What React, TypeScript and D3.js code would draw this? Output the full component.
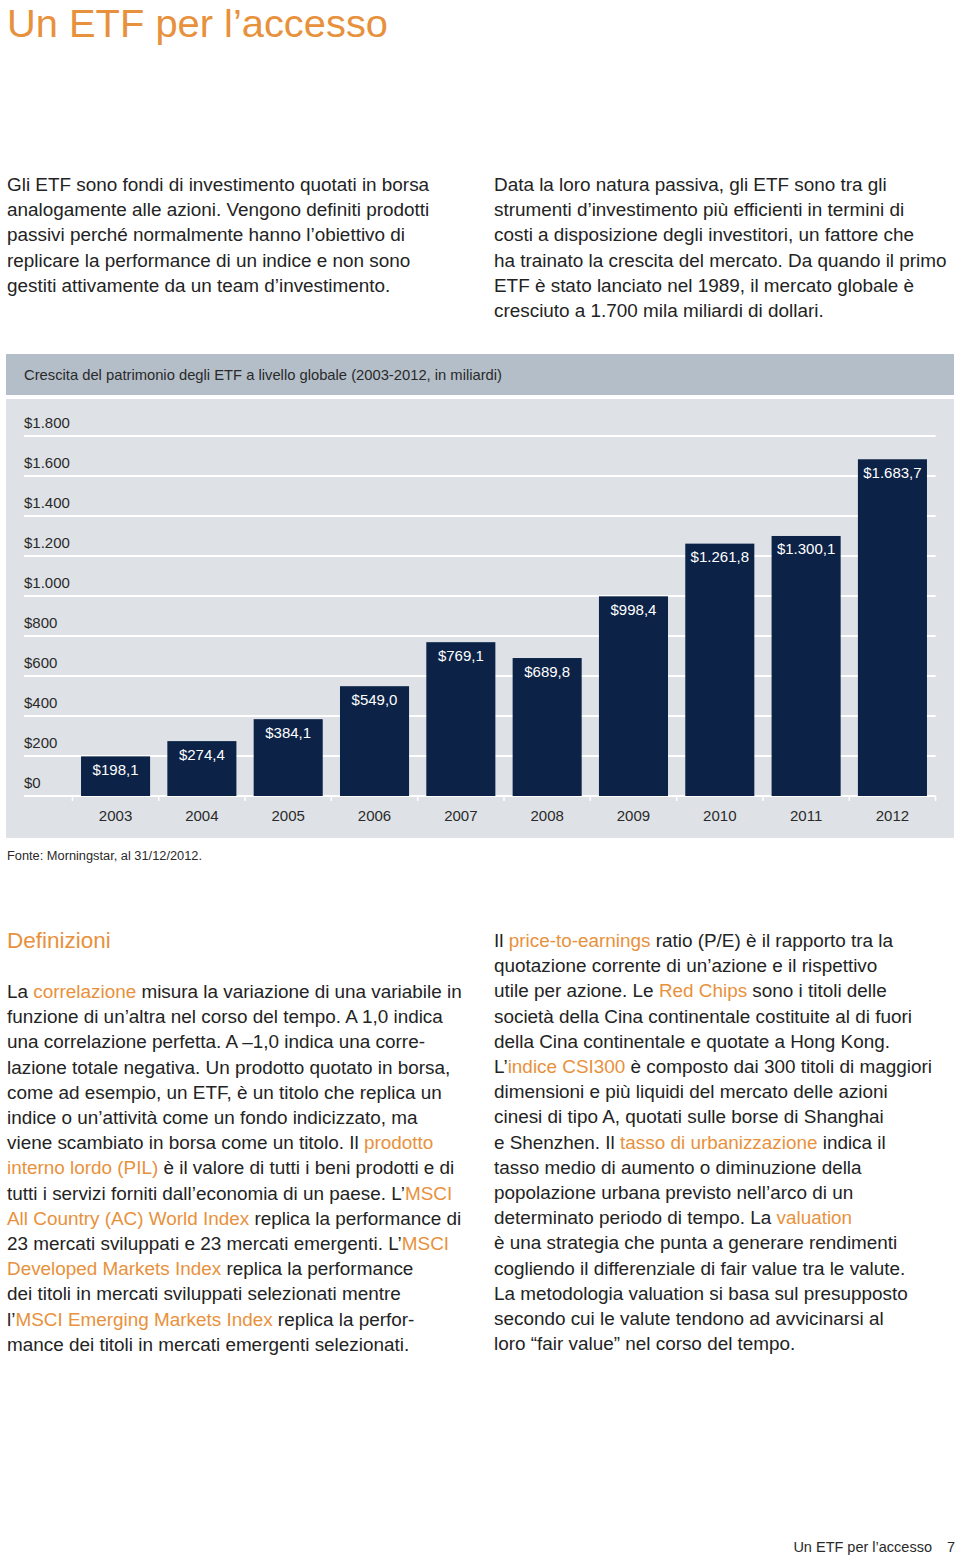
import React from "react";
import * as d3 from "d3";

const years = ["2003", "2004", "2005", "2006", "2007", "2008", "2009", "2010", "2011", "2012"];
const values = [198.1, 274.4, 384.1, 549.0, 769.1, 689.8, 998.4, 1261.8, 1300.1, 1683.7];
const valueLabels = ["$198,1", "$274,4", "$384,1", "$549,0", "$769,1", "$689,8", "$998,4", "$1.261,8", "$1.300,1", "$1.683,7"];
const yTicks = [0, 200, 400, 600, 800, 1000, 1200, 1400, 1600, 1800];
const yTickLabels = ["$0", "$200", "$400", "$600", "$800", "$1.000", "$1.200", "$1.400", "$1.600", "$1.800"];

const title = "Un ETF per l’accesso";
const chartTitle = "Crescita del patrimonio degli ETF a livello globale (2003-2012, in miliardi)";
const source = "Fonte: Morningstar, al 31/12/2012.";

// Segments: [text, highlighted]
type Seg = [string, boolean];
const introLeft: Seg[][] = [
  [["Gli ETF sono fondi di investimento quotati in borsa", false]],
  [["analogamente alle azioni. Vengono definiti prodotti", false]],
  [["passivi perché normalmente hanno l’obiettivo di", false]],
  [["replicare la performance di un indice e non sono", false]],
  [["gestiti attivamente da un team d’investimento.", false]],
];
const introRight: Seg[][] = [
  [["Data la loro natura passiva, gli ETF sono tra gli", false]],
  [["strumenti d’investimento più efficienti in termini di", false]],
  [["costi a disposizione degli investitori, un fattore che", false]],
  [["ha trainato la crescita del mercato. Da quando il primo", false]],
  [["ETF è stato lanciato nel 1989, il mercato globale è", false]],
  [["cresciuto a 1.700 mila miliardi di dollari.", false]],
];
const defLeft: Seg[][] = [
  [["La ", false], ["correlazione", true], [" misura la variazione di una variabile in", false]],
  [["funzione di un’altra nel corso del tempo. A 1,0 indica", false]],
  [["una correlazione perfetta. A –1,0 indica una corre-", false]],
  [["lazione totale negativa. Un prodotto quotato in borsa,", false]],
  [["come ad esempio, un ETF, è un titolo che replica un", false]],
  [["indice o un’attività come un fondo indicizzato, ma", false]],
  [["viene scambiato in borsa come un titolo. Il ", false], ["prodotto", true]],
  [["interno lordo (PIL)", true], [" è il valore di tutti i beni prodotti e di", false]],
  [["tutti i servizi forniti dall’economia di un paese. L’", false], ["MSCI", true]],
  [["All Country (AC) World Index", true], [" replica la performance di", false]],
  [["23 mercati sviluppati e 23 mercati emergenti. L’", false], ["MSCI", true]],
  [["Developed Markets Index", true], [" replica la performance", false]],
  [["dei titoli in mercati sviluppati selezionati mentre", false]],
  [["l’", false], ["MSCI Emerging Markets Index", true], [" replica la perfor-", false]],
  [["mance dei titoli in mercati emergenti selezionati.", false]],
];
const defRight: Seg[][] = [
  [["Il ", false], ["price-to-earnings", true], [" ratio (P/E) è il rapporto tra la", false]],
  [["quotazione corrente di un’azione e il rispettivo", false]],
  [["utile per azione. Le ", false], ["Red Chips", true], [" sono i titoli delle", false]],
  [["società della Cina continentale costituite al di fuori", false]],
  [["della Cina continentale e quotate a Hong Kong.", false]],
  [["L’", false], ["indice CSI300", true], [" è composto dai 300 titoli di maggiori", false]],
  [["dimensioni e più liquidi del mercato delle azioni", false]],
  [["cinesi di tipo A, quotati sulle borse di Shanghai", false]],
  [["e Shenzhen. Il ", false], ["tasso di urbanizzazione", true], [" indica il", false]],
  [["tasso medio di aumento o diminuzione della", false]],
  [["popolazione urbana previsto nell’arco di un", false]],
  [["determinato periodo di tempo. La ", false], ["valuation", true]],
  [["è una strategia che punta a generare rendimenti", false]],
  [["cogliendo il differenziale di fair value tra le valute.", false]],
  [["La metodologia valuation si basa sul presupposto", false]],
  [["secondo cui le valute tendono ad avvicinarsi al", false]],
  [["loro “fair value” nel corso del tempo.", false]],
];

const ORANGE = "#e8913c";
const TEXT = "#232323";
const NAVY = "#0c2247";
const FONT = "'Liberation Sans', Arial, sans-serif";
const BODY_SIZE = 18.9;

function Para({ lines, x, y0, lh }: { lines: Seg[][]; x: number; y0: number; lh: number }) {
  return (
    <g>
      {lines.map((segs, i) => (
        <text key={i} x={x} y={y0 + i * lh} fontSize={BODY_SIZE} fill={TEXT} fontFamily={FONT}>
          {segs.map((s, j) => (
            <tspan key={j} fill={s[1] ? ORANGE : TEXT}>{s[0]}</tspan>
          ))}
        </text>
      ))}
    </g>
  );
}

export default function App() {
  const x = d3.scaleBand<string>().domain(years).range([72.4, 935.6]).paddingInner(0.2).paddingOuter(0.1);
  const y = d3.scaleLinear().domain([0, 1800]).range([796, 436]);
  const step = x.step();
  const x0 = 72.4;
  const tickXs = d3.range(years.length + 1).map((i) => x0 + i * step);

  return (
    <div style={{ position: "absolute", left: 0, top: 0 }}>
      <svg width={960} height={1557} style={{ display: "block", background: "#fff" }} fontFamily={FONT}>
        <text x={7} y={37} fontSize={38.5} fill={ORANGE} textLength={381} lengthAdjust="spacingAndGlyphs">{title}</text>

        <Para lines={introLeft} x={7} y0={191} lh={25.2} />
        <Para lines={introRight} x={494} y0={191} lh={25.2} />

        {/* chart */}
        <rect x={6} y={354} width={948} height={41} fill="#b3bec8" />
        <text x={24} y={380} fontSize={14.5} fill="#2a2a2a" textLength={478} lengthAdjust="spacingAndGlyphs">{chartTitle}</text>
        <rect x={6} y={399} width={948} height={439} fill="#dee2e6" />

        {yTicks.map((t, i) => (
          <g key={t}>
            <line x1={24} x2={935.6} y1={y(t)} y2={y(t)} stroke="#fff" strokeWidth={2} />
            <text x={24} y={y(t) - 8.5} fontSize={15} fill="#2a2a2a">{yTickLabels[i]}</text>
          </g>
        ))}
        {tickXs.map((tx, i) => (
          <line key={i} x1={tx} x2={tx} y1={796} y2={801} stroke="#fff" strokeWidth={1.5} />
        ))}

        {years.map((yr, i) => (
          <g key={yr}>
            <rect x={x(yr)} y={y(values[i])} width={x.bandwidth()} height={y(0) - y(values[i])} fill={NAVY} />
            <text x={(x(yr) as number) + x.bandwidth() / 2} y={y(values[i]) + 18.5} fontSize={15} fill="#fff" textAnchor="middle">
              {valueLabels[i]}
            </text>
            <text x={(x(yr) as number) + x.bandwidth() / 2} y={820.5} fontSize={15} fill="#2a2a2a" textAnchor="middle">
              {yr}
            </text>
          </g>
        ))}

        <text x={7} y={859.5} fontSize={12.5} fill="#2a2a2a" textLength={195} lengthAdjust="spacingAndGlyphs">{source}</text>

        <text x={7} y={948} fontSize={22.5} fill={ORANGE}>Definizioni</text>
        <Para lines={defLeft} x={7} y0={998} lh={25.2} />
        <Para lines={defRight} x={494} y0={947} lh={25.2} />

        <text x={932} y={1552} fontSize={14.5} fill="#2a2a2a" textAnchor="end">{title}</text>
        <text x={955} y={1552} fontSize={14.5} fill="#2a2a2a" textAnchor="end">7</text>
      </svg>
    </div>
  );
}
